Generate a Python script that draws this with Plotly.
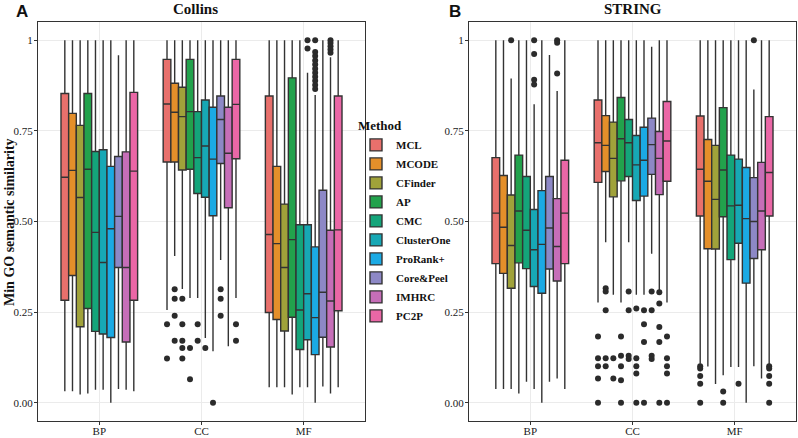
import plotly.graph_objects as go

# ---------------- data ----------------
methods = ["MCL", "MCODE", "CFinder", "AP", "CMC", "ClusterOne", "ProRank+", "Core&Peel", "IMHRC", "PC2P"]
groups = ["BP", "CC", "MF"]
colors = ["#E8706C", "#E48F2A", "#A0A23A", "#22A24C", "#14A57A", "#17A8B5", "#1BAAE4", "#8D88C6", "#C66EB8", "#EA67A6"]

y_ticks = [0, 0.25, 0.5, 0.75, 1]
y_ticktext = ["0.00", "0.25", "0.50", "0.75", "1"]

# Collins: per method [BP, CC, MF]
collins_low = [[0.032, 0.256, 0.043], [0.032, 0.405, 0.043], [0.023, 0.314, 0.043], [0.026, 0.289, 0.023],
               [0.036, 0.289, 0.043], [0.036, 0.179, 0.043], [0.000, 0.142, 0.000], [0.038, 0.394, 0.045],
               [0.036, 0.156, 0.026], [0.032, 0.289, 0.043]]
collins_q1 = [[0.283, 0.664, 0.249], [0.351, 0.664, 0.230], [0.210, 0.642, 0.198], [0.260, 0.644, 0.236],
              [0.197, 0.577, 0.147], [0.190, 0.567, 0.174], [0.180, 0.516, 0.133], [0.373, 0.660, 0.181],
              [0.168, 0.538, 0.154], [0.283, 0.673, 0.254]]
collins_med = [[0.622, 0.824, 0.464], [0.641, 0.801, 0.439], [0.566, 0.789, 0.373], [0.644, 0.803, 0.450],
               [0.470, 0.676, 0.256], [0.387, 0.708, 0.301], [0.480, 0.672, 0.235], [0.514, 0.781, 0.305],
               [0.373, 0.688, 0.281], [0.639, 0.823, 0.477]]
collins_q3 = [[0.853, 0.947, 0.846], [0.798, 0.881, 0.652], [0.765, 0.870, 0.548], [0.853, 0.947, 0.896],
              [0.693, 0.803, 0.491], [0.698, 0.835, 0.491], [0.652, 0.815, 0.430], [0.679, 0.846, 0.586],
              [0.692, 0.815, 0.476], [0.856, 0.947, 0.846]]
collins_high = [[1.0, 1.0, 1.0], [1.0, 1.0, 1.0], [1.0, 1.0, 1.0], [1.0, 1.0, 1.0],
                [1.0, 1.0, 1.0], [1.0, 1.0, 0.910], [1.0, 1.0, 0.849], [0.958, 1.0, 1.0],
                [1.0, 1.0, 0.953], [1.0, 1.0, 1.0]]
collins_outliers = {
    "MCL": {"CC": [0.217, 0.122]},
    "MCODE": {"CC": [0.313, 0.287, 0.240, 0.171]},
    "CFinder": {"CC": [0.287, 0.217, 0.171, 0.151, 0.122]},
    "AP": {"CC": [0.151, 0.065]},
    "CMC": {"CC": [0.217, 0.171]},
    "ClusterOne": {"CC": [0.151], "MF": [1.0, 0.977]},
    "ProRank+": {"CC": [0.0], "MF": [1.0, 0.967, 0.956, 0.944, 0.933, 0.921, 0.910, 0.899, 0.888, 0.876, 0.865]},
    "Core&Peel": {"CC": [0.313, 0.287, 0.240]},
    "IMHRC": {"MF": [1.0, 0.992, 0.983, 0.974, 0.965]},
    "PC2P": {"CC": [0.217, 0.171]},
}

# STRING: per method [BP, CC, MF]
string_low = [[0.038, 0.277, 0.108], [0.038, 0.443, 0.100], [0.038, 0.298, 0.052], [0.026, 0.277, 0.076],
              [0.058, 0.443, 0.099], [0.038, 0.298, 0.099], [0.000, 0.298, 0.000], [0.058, 0.411, 0.101],
              [0.067, 0.298, 0.067], [0.038, 0.277, 0.100]]
string_q1 = [[0.384, 0.608, 0.515], [0.357, 0.638, 0.425], [0.316, 0.568, 0.424], [0.386, 0.612, 0.513],
             [0.370, 0.624, 0.395], [0.321, 0.558, 0.440], [0.302, 0.570, 0.330], [0.369, 0.630, 0.398],
             [0.336, 0.574, 0.422], [0.384, 0.611, 0.515]]
string_med = [[0.523, 0.717, 0.644], [0.484, 0.710, 0.611], [0.434, 0.674, 0.561], [0.529, 0.728, 0.642],
              [0.476, 0.717, 0.543], [0.422, 0.656, 0.545], [0.437, 0.669, 0.508], [0.482, 0.712, 0.500],
              [0.431, 0.674, 0.529], [0.523, 0.722, 0.635]]
string_q3 = [[0.676, 0.835, 0.791], [0.627, 0.792, 0.726], [0.573, 0.774, 0.710], [0.683, 0.842, 0.814],
             [0.624, 0.781, 0.683], [0.533, 0.737, 0.672], [0.585, 0.760, 0.649], [0.624, 0.785, 0.621],
             [0.563, 0.748, 0.663], [0.669, 0.831, 0.789]]
string_high = [[1.0, 1.0, 1.0], [1.0, 1.0, 1.0], [0.894, 1.0, 1.0], [1.0, 1.0, 1.0],
               [1.0, 1.0, 1.0], [0.823, 1.0, 1.0], [1.0, 1.0, 1.0], [0.959, 0.982, 0.864],
               [0.860, 1.0, 1.0], [1.0, 1.0, 1.0]]
string_outliers = {
    "MCL": {"CC": [0.183, 0.123, 0.101, 0.067, 0.0], "MF": [0.101, 0.095, 0.074, 0.053, 0.0]},
    "MCODE": {"CC": [0.316, 0.307, 0.255, 0.123, 0.101]},
    "CFinder": {"BP": [1.0], "CC": [0.123, 0.067]},
    "AP": {"CC": [0.183, 0.130, 0.101, 0.0625, 0.0], "MF": [0.031, 0.0]},
    "CMC": {"CC": [0.307, 0.255, 0.130, 0.121]},
    "ClusterOne": {"BP": [1.0, 0.962, 0.891, 0.878], "CC": [0.260, 0.123, 0.101, 0.081, 0.0], "MF": [0.053]},
    "ProRank+": {"CC": [0.255, 0.217, 0.168, 0.0]},
    "Core&Peel": {"CC": [0.307, 0.255, 0.130, 0.121], "MF": [1.0]},
    "IMHRC": {"BP": [1.0, 0.993, 0.908], "CC": [0.305, 0.274, 0.209, 0.168, 0.0]},
    "PC2P": {"CC": [0.183, 0.123, 0.101, 0.081, 0.0], "MF": [0.101, 0.095, 0.074, 0.053, 0.0]},
}

# ---------------- figure ----------------
W, H = 798, 438
DODGE = 0.75
BW = DODGE / len(methods)
SERIF = "Liberation Serif"
EDGE = "#333333"

fig = go.Figure()


def add_panel(low, q1, med, q3, high, outliers, xa, ya, showlegend):
    ox, oy = [], []
    for i, m in enumerate(methods):
        off = (i - (len(methods) - 1) / 2) * BW
        xs = [g + off for g in range(len(groups))]
        fig.add_trace(go.Box(
            x=xs, q1=q1[i], median=med[i], q3=q3[i],
            lowerfence=low[i], upperfence=high[i],
            width=BW, whiskerwidth=0, name=m, legendgroup=m,
            showlegend=showlegend, fillcolor=colors[i],
            line=dict(color=EDGE, width=1.4),
            xaxis=xa, yaxis=ya, hoverinfo="skip",
        ))
        for gname, vals in outliers.get(m, {}).items():
            gi = groups.index(gname)
            for v in vals:
                ox.append(gi + off)
                oy.append(v)
    fig.add_trace(go.Scatter(
        x=ox, y=oy, mode="markers", showlegend=False,
        marker=dict(color="#2b2b2b", size=6),
        xaxis=xa, yaxis=ya, hoverinfo="skip",
    ))


add_panel(collins_low, collins_q1, collins_med, collins_q3, collins_high, collins_outliers, "x", "y", True)
add_panel(string_low, string_q1, string_med, string_q3, string_high, string_outliers, "x2", "y2", False)

ydom = [1 - 421 / H, 1 - 22 / H]
axis_common = dict(
    showgrid=True, gridcolor="#EBEBEB", gridwidth=1, zeroline=False,
    showline=True, mirror=True, linecolor=EDGE, linewidth=1,
    ticks="outside", ticklen=3, tickcolor=EDGE, automargin=False,
    tickfont=dict(family=SERIF, size=11, color="#1a1a1a"),
)
xax = dict(range=[-0.6, 2.6], tickmode="array", tickvals=list(range(len(groups))), ticktext=groups,
           ticklabelstandoff=-3, **axis_common)
yax = dict(range=[-0.05, 1.05], tickmode="array", tickvals=y_ticks, ticktext=y_ticktext,
           ticklabelstandoff=-1, **axis_common)

fig.update_layout(
    width=W, height=H,
    margin=dict(l=0, r=0, t=0, b=0, autoexpand=False),
    paper_bgcolor="white", plot_bgcolor="white",
    boxmode="overlay",
    xaxis=dict(domain=[38 / W, 365 / W], anchor="y", **xax),
    yaxis=dict(domain=ydom, anchor="x", **yax),
    xaxis2=dict(domain=[469 / W, 796 / W], anchor="y2", **xax),
    yaxis2=dict(domain=ydom, anchor="x2", **yax),
    legend=dict(
        x=356 / W, xanchor="left", y=1 - 222 / H, yanchor="middle",
        title=dict(text="Method", font=dict(family=SERIF, size=13, color="#111", weight="bold")),
        font=dict(family=SERIF, size=11, color="#111", weight="bold"),
        bgcolor="rgba(0,0,0,0)", tracegroupgap=0,
    ),
    annotations=[
        dict(text="<b>A</b>", x=14 / W, y=1, xref="paper", yref="paper", xanchor="left", yanchor="top",
             showarrow=False, font=dict(family="Liberation Sans", size=17, color="#111")),
        dict(text="<b>B</b>", x=447 / W, y=1, xref="paper", yref="paper", xanchor="left", yanchor="top",
             showarrow=False, font=dict(family="Liberation Sans", size=17, color="#111")),
        dict(text="<b>Collins</b>", x=195 / W, y=1 - 9 / H, xref="paper", yref="paper", xanchor="center",
             yanchor="middle", showarrow=False, font=dict(family=SERIF, size=15, color="#111")),
        dict(text="<b>STRING</b>", x=633 / W, y=1 - 9 / H, xref="paper", yref="paper", xanchor="center",
             yanchor="middle", showarrow=False, font=dict(family=SERIF, size=15, color="#111")),
        dict(text="<b>Min GO semantic similarity</b>", x=9 / W, y=1 - 222 / H, xref="paper", yref="paper",
             xanchor="center", yanchor="middle", textangle=-90, showarrow=False,
             font=dict(family=SERIF, size=14, color="#111")),
    ],
)

fig.write_html("out.html", config={"displayModeBar": False},
               post_script="document.body.style.margin='0';")
